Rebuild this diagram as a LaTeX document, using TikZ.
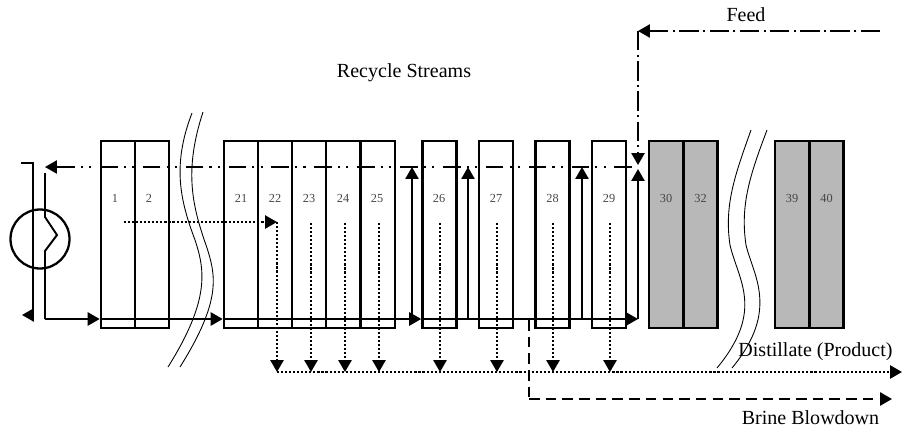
\documentclass[tikz,border=0pt]{standalone}
\usepackage{fontspec}
\setmainfont{Liberation Serif}
\usepackage{xcolor}
\usetikzlibrary{arrows.meta}
\definecolor{stagegray}{RGB}{184,184,184}
\definecolor{numgray}{RGB}{70,70,70}
\tikzset{
  stage/.style={draw, line width=1.5pt, minimum width=0.68cm, minimum height=3.74cm, inner sep=0pt},
  hotstage/.style={stage, fill=stagegray},
  stagenum/.style={font=\fontsize{7}{8}\selectfont, text=numgray, inner sep=0pt},
  caption/.style={font=\fontsize{11.4}{13}\selectfont, inner sep=0pt},
  tip/.style={-{Triangle[length=6.8pt,width=7.5pt]}},
  brine/.style={line width=1.1pt},
  distillate/.style={line width=1.2pt, dash pattern=on 1.2pt off 1.1pt},
  recycle/.style={line width=1.1pt, dash pattern=on 10pt off 5pt on 1.2pt off 3.5pt on 1.2pt off 3.5pt},
  feed/.style={line width=1.1pt, dash pattern=on 11pt off 2.5pt on 1.2pt off 2.5pt},
  blowdown/.style={line width=1.2pt, dash pattern=on 6pt off 3.5pt},
  breakline/.style={line width=0.5pt}
}

\begin{document}
\begin{tikzpicture}[x=0.02cm,y=-0.02cm]
\useasboundingbox (0,0) rectangle (902,433);

% White stages
\foreach \x/\t/\n in {
118/115/1,
152/149/2,
241/241/21,
275/275/22,
309/309/23,
343/343/24,
378/377/25,
439.5/439/26,
496/496/27,
552.5/552.5/28,
609/609/29
}{
\node[stage] (s\n) at (\x,234.5) {};
\node[stagenum] (n\n) at (\t,198) {\n};
}

% Grey stages
\foreach \x/\n in {
666/30,
700.5/32,
792/39,
826.5/40
}{
\node[hotstage] (s\n) at (\x,234.5) {};
\node[stagenum] (n\n) at (\x,198) {\n};
}

% Breaks
\draw[breakline] (192,113) .. controls (172,165) and (180,200) .. (195,240) .. controls (205,270) and (210,300) .. (168,367);
\draw[breakline] (203,112) .. controls (184,170) and (192,205) .. (206,245) .. controls (216,275) and (222,300) .. (180,367);
\draw[breakline] (751,130) .. controls (735,175) and (724,205) .. (730,245) .. controls (738,280) and (765,310) .. (717,368);
\draw[breakline] (767,130) .. controls (750,175) and (740,205) .. (746,245) .. controls (753,275) and (780,310) .. (732,368);

% Labels
\node[caption] (feedlabel) at (746,15) {Feed};
\node[caption] (recyclelabel) at (404,73) {Recycle Streams};
\node[caption] (distlabel) at (815.5,352) {Distillate (Product)};
\node[caption] (blowlabel) at (810.5,418) {Brine Blowdown};

% Points on the streams
\coordinate (feedin) at (880,31);
\coordinate (feedturn) at (638,31);
\coordinate (inlet) at (638,165);
\coordinate (outlet) at (638,169);
\coordinate (recstart) at (632,167);
\coordinate (recend) at (45,167);
\coordinate (heatin) at (45,173);
\coordinate (kinka) at (45,217);
\coordinate (kinkb) at (57,235);
\coordinate (kinkc) at (45,251);
\coordinate (heatout) at (45,319);
\coordinate (mainend) at (638,319);
\coordinate (ca) at (33,163);
\coordinate (cb) at (21,163);
\coordinate (cc) at (33,315);
\coordinate (cd) at (22,315);
\coordinate (dstart) at (124,222);
\coordinate (dturn) at (277,222);
\coordinate (dcorner) at (277,372);
\coordinate (dend) at (902,372);
\coordinate (bstart) at (529,320);
\coordinate (bturn) at (529,399);
\coordinate (bend) at (892,399);

% Heater
\node[draw, circle, line width=1.3pt, minimum size=1.18cm, inner sep=0pt] (heater) at (40,239) {};
\draw[brine] (cb) -- (ca) -- (cc);
\draw[brine,tip] (cc) -- (cd);
\draw[brine] (heatin) -- (kinka) -- (kinkb) -- (kinkc) -- (heatout);

% Main brine line
\draw[brine,tip] (heatout) -- (s1.west |- heatout);
\draw[brine,tip] (s1.west |- heatout) -- (s21.west |- heatout);
\draw[brine,tip] (s21.west |- heatout) -- (s26.west |- heatout);
\draw[brine,tip] (s26.west |- heatout) -- (mainend);

% Branches up to the recycle line
\foreach \x in {412,468,582}{
\coordinate (up) at (\x,319);
\coordinate (upend) at (\x,167);
\draw[brine,tip] (up) -- (upend);
}
\draw[brine,tip] (mainend) -- (outlet);

% Feed
\draw[feed,tip] (feedin) -- (feedturn);
\draw[feed,tip] (feedturn) -- (inlet);

% Recycle
\draw[recycle,tip] (recstart) -- (recend);

% Distillate
\draw[distillate,tip] (dstart) -- (dturn);
\draw[distillate,tip] (dturn) -- (dcorner);
\draw[distillate,tip] (dcorner) -- (dend);
\foreach \x in {311,345,379,440,497,553,610}{
\coordinate (dtop) at (\x,223);
\coordinate (dlow) at (\x,372);
\draw[distillate,tip] (dtop) -- (dlow);
}

% Blowdown
\draw[blowdown] (bstart) -- (bturn);
\draw[blowdown,tip] (bturn) -- (bend);

\end{tikzpicture}
\end{document}
